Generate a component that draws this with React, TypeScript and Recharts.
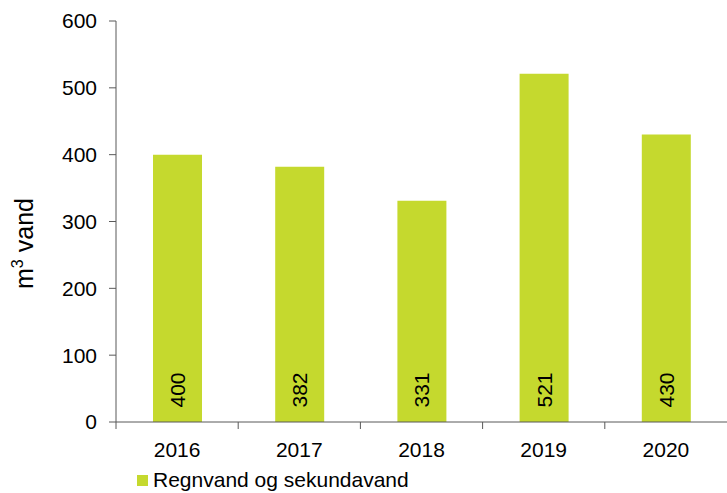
import React from 'react'
import { BarChart, Bar, XAxis, YAxis, Legend, LabelList } from 'recharts'

const YEARS = ['2016', '2017', '2018', '2019', '2020']
const RAIN_WATER = [400, 382, 331, 521, 430]
const Y_TICKS = [0, 100, 200, 300, 400, 500, 600]
const SERIES_NAME = 'Regnvand og sekundavand'

const GREEN = '#c5d92e'
const AXIS = '#595959'
const FONT = '"Liberation Sans", Arial, sans-serif'
const FS = 21

const data = YEARS.map((year, i) => ({ year, value: RAIN_WATER[i] }))

function YearTick(props: any) {
  const { x, y, payload, width, visibleTicksCount } = props
  const band = width / visibleTicksCount
  return (
    <g>
      <line x1={x - band / 2} y1={y} x2={x - band / 2} y2={y + 7} stroke={AXIS} strokeWidth={1} />
      <text x={x} y={y + 27} textAnchor="middle" dominantBaseline="central" fill="#000" fontSize={FS} fontFamily={FONT}>
        {payload.value}
      </text>
    </g>
  )
}

function BarValue(props: any) {
  const { x, y, width, height, value } = props
  const cx = x + width / 2
  const cy = y + height - 32
  return (
    <text
      x={cx}
      y={cy}
      transform={`rotate(-90 ${cx} ${cy})`}
      textAnchor="middle"
      dominantBaseline="central"
      fill="#000"
      fontSize={FS}
      fontFamily={FONT}
    >
      {value}
    </text>
  )
}

function YLabel(props: any) {
  const { viewBox } = props
  const cx = 33
  const cy = viewBox.y + viewBox.height / 2 + 22
  return (
    <text
      x={cx}
      y={cy}
      transform={`rotate(-90 ${cx} ${cy})`}
      textAnchor="middle"
      fill="#000"
      fontSize={25}
      fontFamily={FONT}
    >
      m<tspan fontSize={16} dy={-10}>3</tspan><tspan dy={10}> vand</tspan>
    </text>
  )
}

function LegendBox() {
  return (
    <div style={{ display: 'flex', alignItems: 'center', height: 31, paddingLeft: 137, paddingTop: 5, boxSizing: 'border-box', fontFamily: FONT, fontSize: FS, color: '#000' }}>
      <div style={{ width: 11, height: 11, background: GREEN, marginRight: 5 }} />
      <span>{SERIES_NAME}</span>
    </div>
  )
}

export default function App() {
  return (
    <div style={{ position: 'absolute', left: 0, top: 0, width: 727, height: 493, background: '#fff' }}>
      <BarChart width={727} height={493} data={data} margin={{ top: 21, right: 0, bottom: 0, left: 0 }} barCategoryGap="20%">
        <XAxis
          dataKey="year"
          height={40}
          tickLine={false}
          tickSize={0}
          tickMargin={0}
          axisLine={{ stroke: AXIS }}
          tick={<YearTick />}
          interval={0}
        />
        <YAxis
          width={116}
          domain={[0, 600]}
          ticks={Y_TICKS}
          interval={0}
          tickSize={7}
          tickMargin={12}
          axisLine={{ stroke: AXIS }}
          tickLine={{ stroke: AXIS }}
          tick={{ fill: '#000', fontSize: FS, fontFamily: FONT }}
          label={<YLabel />}
        />
        <Legend verticalAlign="bottom" align="left" height={31} content={<LegendBox />} />
        <Bar dataKey="value" name={SERIES_NAME} fill={GREEN} barSize={49} isAnimationActive={false}>
          <LabelList dataKey="value" content={<BarValue />} />
        </Bar>
      </BarChart>
    </div>
  )
}
